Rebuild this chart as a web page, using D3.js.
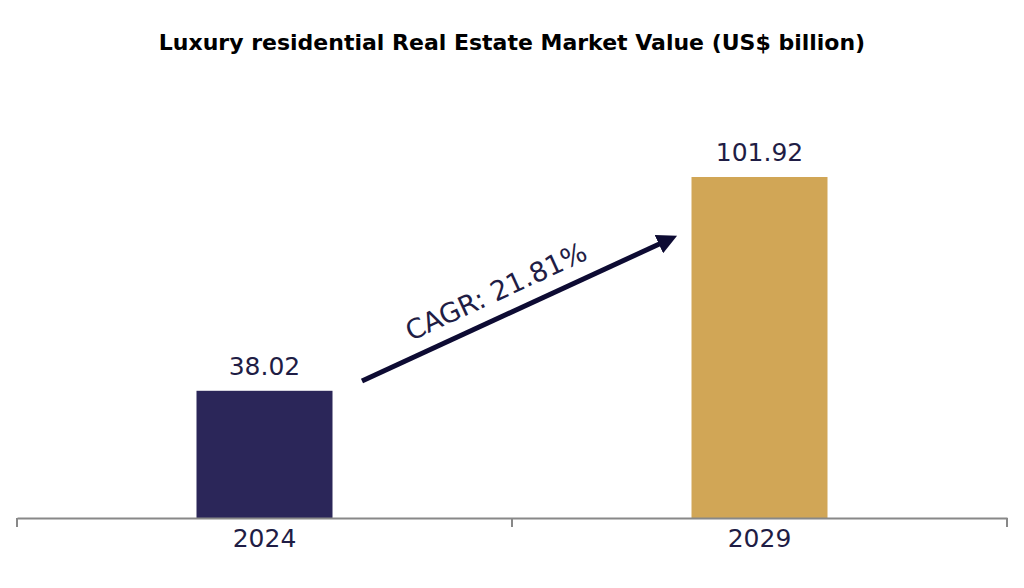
<!DOCTYPE html>
<html><head><meta charset="utf-8">
<script src="https://cdn.jsdelivr.net/npm/d3@7/dist/d3.min.js"></script>
<style>body{margin:0;background:#fff}</style></head>
<body><svg id="c" width="1024" height="588"></svg>
<script>
const categories = ["2024","2029"];
const values = [38.02, 101.92];
const colors = ["#2b2659","#d1a656"];
const cagrLabel = "CAGR: 21.81%";
const title = "Luxury residential Real Estate Market Value (US$ billion)";

const svg = d3.select("#c");
const font = "'DejaVu Sans', sans-serif";
const baseY = 518;
const x = d3.scaleBand().domain(categories).range([17,1007]).paddingInner(0).paddingOuter(0);
const y = d3.scaleLinear().domain([0,101.92]).range([baseY,177]);
const bw = 136;

svg.append("text").attr("x",512).attr("y",50).attr("text-anchor","middle")
  .attr("font-family",font).attr("font-weight","bold").attr("font-size",22).attr("fill","#000").text(title);

svg.selectAll("rect.bar").data(values).join("rect")
  .attr("x",(d,i)=>x(categories[i])+x.bandwidth()/2-bw/2).attr("width",bw)
  .attr("y",d=>y(d)).attr("height",d=>baseY-y(d)).attr("fill",(d,i)=>colors[i]);

svg.selectAll("text.val").data(values).join("text")
  .attr("x",(d,i)=>x(categories[i])+x.bandwidth()/2).attr("y",d=>y(d)-16)
  .attr("text-anchor","middle").attr("font-family",font).attr("font-size",25).attr("fill","#1f1d45")
  .text(d=>d.toFixed(2));

const ax = d3.axisBottom(x).tickSize(0).tickFormat(d=>d);
const g = svg.append("g").attr("transform",`translate(0,${baseY})`).call(ax);
g.select(".domain").attr("stroke","#888").attr("stroke-width",2);
g.selectAll("text").attr("font-family",font).attr("font-size",25).attr("fill","#1f1d45").attr("dy","1.05em");
[17,512,1007].forEach(t=>g.append("line").attr("x1",t).attr("x2",t).attr("y1",0).attr("y2",9).attr("stroke","#888").attr("stroke-width",2));

svg.append("defs").append("marker").attr("id","ah").attr("viewBox","0 0 10 10").attr("refX",5).attr("refY",5)
  .attr("markerWidth",4).attr("markerHeight",4).attr("orient","auto")
  .append("path").attr("d","M0,0L10,5L0,10z").attr("fill","#0d0b33");
const x1=362,y1=381,x2=668,y2=240;
svg.append("line").attr("x1",x1).attr("y1",y1).attr("x2",x2).attr("y2",y2)
  .attr("stroke","#0d0b33").attr("stroke-width",5).attr("marker-end","url(#ah)");
const ang = Math.atan2(235-381,678-362)*180/Math.PI;
svg.append("text").attr("transform",`translate(500,${300}) rotate(${ang})`).attr("text-anchor","middle")
  .attr("font-family",font).attr("font-size",27).attr("fill","#1f1d45").text(cagrLabel);
</script></body></html>
